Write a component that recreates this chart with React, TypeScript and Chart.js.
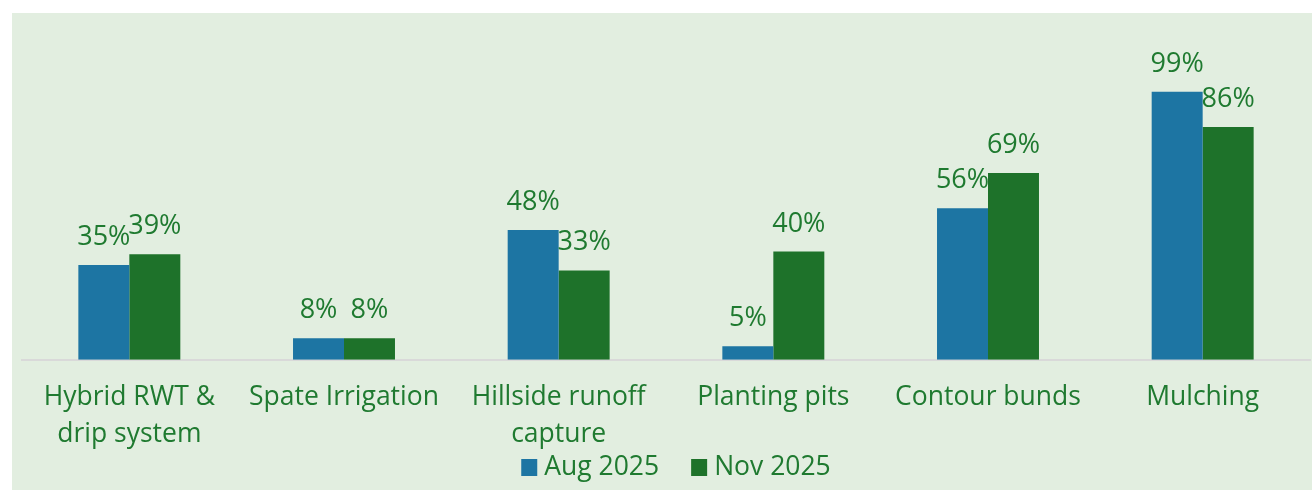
import React, { useEffect, useRef } from "react";
import { Chart, registerables } from "chart.js";

Chart.register(...registerables);

const categories: (string | string[])[] = [
  ["Hybrid RWT &", "drip system"],
  "Spate Irrigation",
  ["Hillside runoff", "capture"],
  "Planting pits",
  "Contour bunds",
  "Mulching",
];
const aug2025 = [35, 8, 48, 5, 56, 99];
const nov2025 = [39, 8, 33, 40, 69, 86];
const seriesNames = ["Aug 2025", "Nov 2025"];

const BLUE = "#1D75A3";
const GREEN = "#1E722A";
const TEXT = "#1F7A30";
const FONT = "'Open Sans', sans-serif";

const labelPlugin = {
  id: "valueLabels",
  afterDatasetsDraw(chart: any) {
    const ctx = chart.ctx;
    ctx.save();
    ctx.font = `27px ${FONT}`;
    ctx.fillStyle = TEXT;
    ctx.textAlign = "center";
    ctx.textBaseline = "alphabetic";
    chart.data.datasets.forEach((ds: any, di: number) => {
      const meta = chart.getDatasetMeta(di);
      meta.data.forEach((bar: any, i: number) => {
        ctx.fillText(`${ds.data[i]}%`, bar.x, bar.y - 20);
      });
    });
    ctx.restore();
  },
};

const legendPlugin = {
  id: "customLegend",
  afterDraw(chart: any) {
    const ctx = chart.ctx;
    const box = 16;
    const textGap = 7;
    const itemGap = 32;
    ctx.save();
    ctx.font = `26.5px ${FONT}`;
    const items = chart.data.datasets.map((ds: any) => ({
      label: ds.label,
      color: ds.backgroundColor,
      w: ctx.measureText(ds.label).width,
    }));
    const total =
      items.reduce((s: number, it: any) => s + box + textGap + it.w, 0) +
      itemGap * (items.length - 1);
    const cx = (chart.chartArea.left + chart.chartArea.right) / 2 + 10;
    let x = cx - total / 2;
    const y = chart.height - 23;
    ctx.textBaseline = "middle";
    ctx.textAlign = "left";
    items.forEach((it: any) => {
      ctx.fillStyle = it.color;
      ctx.fillRect(x, y - 8, box, 17);
      x += box + textGap;
      ctx.fillStyle = TEXT;
      ctx.fillText(it.label, x, y);
      x += it.w + itemGap;
    });
    ctx.restore();
  },
};

export default function App() {
  const ref = useRef<HTMLCanvasElement>(null);
  useEffect(() => {
    const chart = new Chart(ref.current!, {
      type: "bar",
      data: {
        labels: categories,
        datasets: [
          { label: seriesNames[0], data: aug2025, backgroundColor: BLUE, borderWidth: 0 },
          { label: seriesNames[1], data: nov2025, backgroundColor: GREEN, borderWidth: 0 },
        ],
      },
      options: {
        animation: false,
        responsive: false,
        maintainAspectRatio: false,
        datasets: { bar: { categoryPercentage: 0.475, barPercentage: 1 } },
        layout: { padding: { left: 10, right: 2, top: 22, bottom: 26 } },
        plugins: {
          legend: { display: false },
          tooltip: { enabled: false },
          title: { display: false },
        },
        scales: {
          x: {
            grid: { display: false },
            border: { display: true, color: "#D9D9D9", width: 2 },
            ticks: {
              font: { family: FONT, size: 26.5, lineHeight: 1.4 },
              color: TEXT,
              padding: 11,
              maxRotation: 0,
              autoSkip: false,
            },
          },
          y: {
            display: false,
            min: 0,
            max: 120,
          },
        },
      },
      plugins: [labelPlugin, legendPlugin],
    });
    return () => chart.destroy();
  }, []);
  return (
    <div
      style={{
        position: "absolute",
        left: 12,
        top: 13,
        width: 1300,
        height: 477,
        background: "#E2EEE0",
      }}
    >
      <canvas ref={ref} width={1300} height={477} />
    </div>
  );
}
